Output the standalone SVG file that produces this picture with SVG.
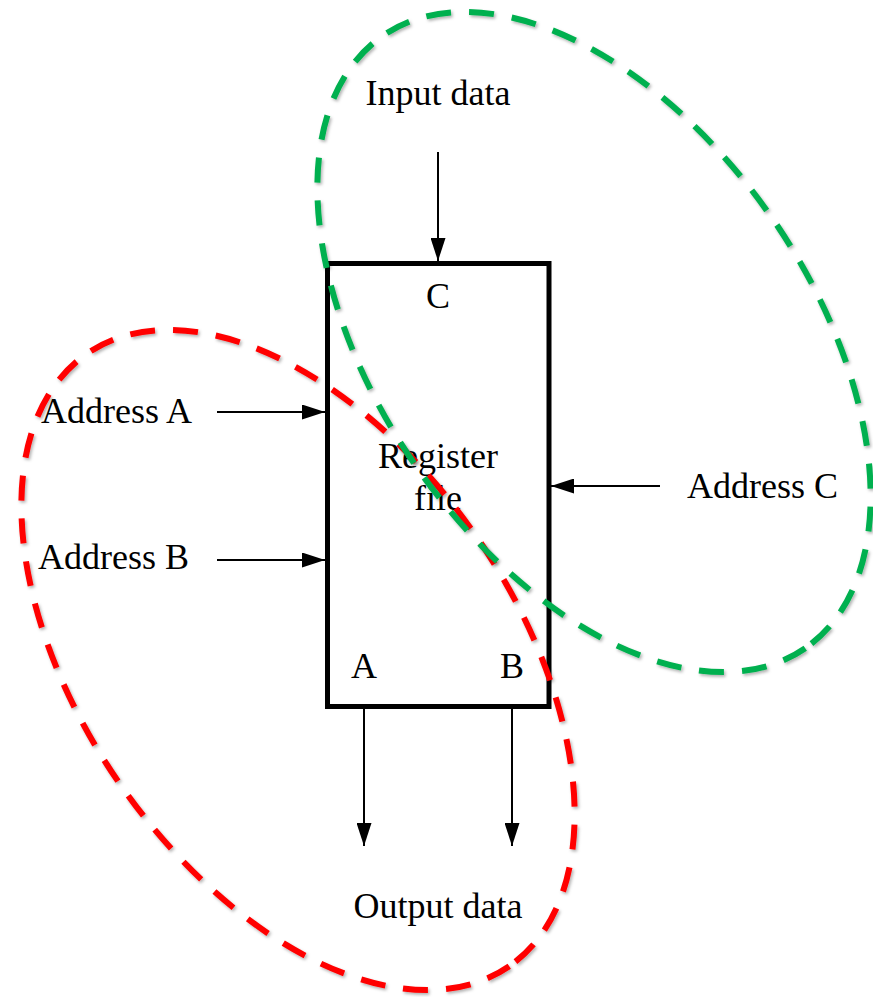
<svg xmlns="http://www.w3.org/2000/svg" width="873" height="997" viewBox="0 0 873 997">
<style>
.lbl{font-family:"Liberation Serif","Times New Roman",serif;font-size:36px;fill:#000}
.conn{stroke:#000;stroke-width:2;fill:none}
.ell{fill:none;stroke-width:6;stroke-dasharray:25 18}
</style>
<defs>
<marker id="ah" viewBox="0 0 23 15" refX="23" refY="7.5" markerWidth="23" markerHeight="15" markerUnits="userSpaceOnUse" orient="auto">
<path d="M0,0 L23,7.5 L0,15 Z" fill="#000"/>
</marker>
<filter id="sh" x="-10%" y="-10%" width="120%" height="120%">
<feDropShadow dx="1.5" dy="2" stdDeviation="1.5" flood-color="#000" flood-opacity="0.3"/>
</filter>
</defs>
<g id="register-file">
<rect x="327.5" y="263.5" width="221.5" height="443" fill="#fff" stroke="#000" stroke-width="5"/>
<text class="lbl" x="438" y="308" text-anchor="middle">C</text>
<text class="lbl" x="438" y="468" text-anchor="middle">Register</text>
<text class="lbl" x="438" y="510" text-anchor="middle">file</text>
<text class="lbl" x="364" y="678" text-anchor="middle">A</text>
<text class="lbl" x="512" y="678" text-anchor="middle">B</text>
</g>
<g id="input-data"><text class="lbl" x="438" y="105" text-anchor="middle">Input data</text></g>
<g id="address-a"><text class="lbl" x="41" y="423">Address A</text></g>
<g id="address-b"><text class="lbl" x="38" y="569">Address B</text></g>
<g id="address-c"><text class="lbl" x="687" y="498">Address C</text></g>
<g id="output-data"><text class="lbl" x="438" y="918" text-anchor="middle">Output data</text></g>
<g id="connectors">
<line class="conn" x1="438" y1="152" x2="438" y2="261" marker-end="url(#ah)"/>
<line class="conn" x1="217" y1="412" x2="325" y2="412" marker-end="url(#ah)"/>
<line class="conn" x1="217" y1="560" x2="325" y2="560" marker-end="url(#ah)"/>
<line class="conn" x1="660" y1="486" x2="551" y2="486" marker-end="url(#ah)"/>
<line class="conn" x1="364" y1="709" x2="364" y2="846" marker-end="url(#ah)"/>
<line class="conn" x1="512" y1="709" x2="512" y2="846" marker-end="url(#ah)"/>
</g>
<g id="group-red" filter="url(#sh)">
<ellipse class="ell" cx="298" cy="660" rx="372" ry="217" transform="rotate(55.4 298 660)" stroke="#FF0000"/>
</g>
<g id="group-green" filter="url(#sh)">
<ellipse class="ell" cx="594" cy="342" rx="372" ry="217" transform="rotate(55.4 594 342)" stroke="#00B050"/>
</g>
</svg>
